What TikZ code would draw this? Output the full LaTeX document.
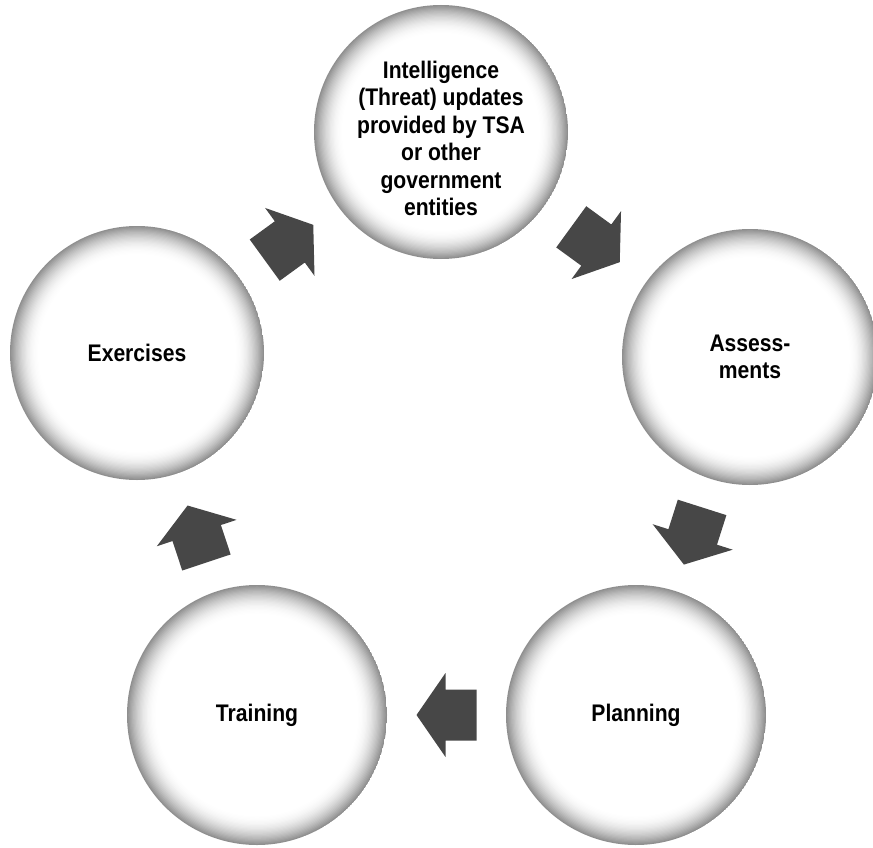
\documentclass[tikz,border=0pt]{standalone}
\usepackage{fontspec}
\setmainfont{Liberation Sans}
\newfontfamily\labfont[FakeStretch=0.88]{Liberation Sans}
\definecolor{arrowgray}{gray}{0.28}
\begin{document}
\begin{tikzpicture}[x=1pt,y=-1pt,
  stage/.style={circle, minimum size=2*#1pt, inner sep=0pt, align=center,
    font=\labfont\bfseries\fontsize{24}{27.5}\selectfont, text=black,
    path picture={
      \foreach \i in {0,...,24}{
        \pgfmathsetmacro{\rad}{#1*(1-0.0095*\i)}
        \pgfmathsetmacro{\shd}{44*(1-\i/24)^2}
        \fill[black!\shd] (path picture bounding box.center) circle (\rad pt);
      }
    }},
  blockarr/.pic={\fill[arrowgray] (-30,-25.5) -- (1,-25.5) -- (1,-42) -- (30,0) -- (1,42) -- (1,25.5) -- (-30,25.5) -- cycle;},
  arrowpos/.style={sloped, allow upside down, pos=0.5}
]
\useasboundingbox (0,0) rectangle (873,848);
\node[stage=127] (top) at (441,132) {\rule{0pt}{30pt}Intelligence\\(Threat) updates\\provided by TSA\\or other\\government\\entities};
\node[stage=128] (ass) at (750,357) {Assess-\\ments};
\node[stage=130] (plan) at (636,715) {Planning};
\node[stage=130] (train) at (257,715) {Training};
\node[stage=127] (ex) at (137,353) {Exercises};
\path (ex.center) -- (top.center) pic[arrowpos] {blockarr};
\path (top.center) -- (ass.center) pic[arrowpos] {blockarr};
\path (ass.center) -- (plan.center) pic[arrowpos] {blockarr};
\path (plan.center) -- (train.center) pic[arrowpos] {blockarr};
\path (train.center) -- (ex.center) pic[arrowpos] {blockarr};
\end{tikzpicture}
\end{document}
